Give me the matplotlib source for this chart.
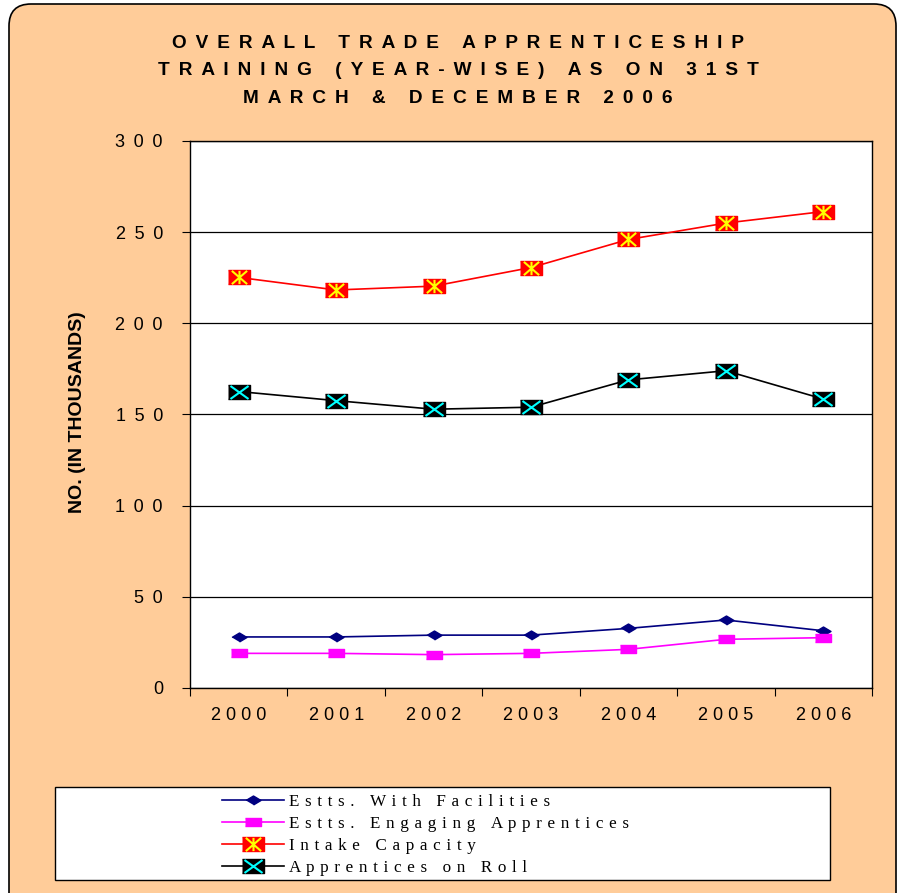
import matplotlib
matplotlib.use("Agg")
import matplotlib.pyplot as plt
from matplotlib.patches import FancyBboxPatch, Rectangle
from matplotlib.lines import Line2D
from matplotlib.path import Path

# %% data (in thousands)
years = ["2000", "2001", "2002", "2003", "2004", "2005", "2006"]
estts_facilities = [28.0, 28.0, 29.0, 29.0, 32.7, 37.3, 31.4]
estts_engaging = [19.0, 19.0, 18.3, 19.0, 21.2, 26.7, 27.6]
intake_capacity = [225.2, 218.3, 220.4, 230.6, 246.0, 255.0, 261.3]
apprentices_roll = [162.6, 157.6, 152.9, 154.0, 169.0, 174.0, 158.5]
yticks = [0, 50, 100, 150, 200, 250, 300]


def spaced(s, sep=" "):
    return sep.join(s)


# flattened excel style markers
diamond = [(0, -0.6), (1, 0), (0, 0.6), (-1, 0)]
flat_sq = [(-1, -0.56), (1, -0.56), (1, 0.56), (-1, 0.56)]
big_sq = [(-1, -0.65), (1, -0.65), (1, 0.65), (-1, 0.65)]
M, L = Path.MOVETO, Path.LINETO
star = Path([(-1, -0.87), (1, 0.87), (-1, 0.87), (1, -0.87), (0, -0.87), (0, 0.87)],
            [M, L, M, L, M, L])
cross = Path([(-1, -0.72), (1, 0.72), (-1, 0.72), (1, -0.72)], [M, L, M, L])

st_fac = dict(color="#000080", lw=1.2, marker=diamond, ms=10.8, mfc="#000080", mec="#000080")
st_eng = dict(color="#FF00FF", lw=1.2, marker=flat_sq, ms=11.5, mfc="#FF00FF", mec="#FF00FF")
st_int = dict(color="#FF0000", lw=1.2, marker=big_sq, ms=16.5, mfc="#FF0000", mec="#FF0000")
st_int2 = dict(ls="none", marker=star, ms=11, mew=1.5, mfc="#FFFF00", mec="#FFFF00")
st_app = dict(color="black", lw=1.2, marker=big_sq, ms=16.5, mfc="black", mec="black")
st_app2 = dict(ls="none", marker=cross, ms=13, mew=1.5, mfc="#00FFFF", mec="#00FFFF")

peach = "#FFCC99"
fig = plt.figure(figsize=(8.98, 8.93), dpi=100)

# rounded peach panel behind everything
panel = FancyBboxPatch((9, -40), 887, 889 + 40, boxstyle="round,pad=0,rounding_size=22",
                       transform=None, facecolor=peach, edgecolor="black", lw=1.2, zorder=-10)
fig.patches.append(panel)

ax = fig.add_axes([190 / 898, 1 - 688 / 893, 682 / 898, 547 / 893])
x = list(range(len(years)))

ax.plot(x, estts_facilities, zorder=3, **st_fac)
ax.plot(x, estts_engaging, zorder=3, **st_eng)
ax.plot(x, intake_capacity, zorder=3, **st_int)
ax.plot(x, intake_capacity, zorder=4, **st_int2)
ax.plot(x, apprentices_roll, zorder=3, **st_app)
ax.plot(x, apprentices_roll, zorder=4, **st_app2)

ax.set_xlim(-0.5, len(years) - 0.5)
ax.set_ylim(0, 300)
ax.set_yticks(yticks)
ax.set_yticklabels([spaced(str(v), " \u2009") for v in yticks], fontsize=13,
                   family="Liberation Sans")
ax.yaxis.grid(True, color="black", lw=0.9)
ax.set_axisbelow(True)

ax.set_xticks([i - 0.5 for i in range(len(years) + 1)])
ax.set_xticklabels([])
ax.set_xticks(x, minor=True)
ax.set_xticklabels([spaced(y) for y in years], minor=True, fontsize=13, family="Liberation Sans")
ax.tick_params(axis="x", which="minor", length=0, pad=14)
ax.tick_params(axis="x", which="major", length=6, direction="out")
ax.tick_params(axis="y", length=6, direction="out", pad=13.5)
for s in ax.spines.values():
    s.set_color("black")
    s.set_linewidth(1.0)

ax.set_ylabel("NO. (IN THOUSANDS)", fontsize=14, fontweight="bold",
              family="Liberation Sans")
ax.yaxis.set_label_coords(-0.152, 0.505)

title_lines = ["OVERALL TRADE APPRENTICESHIP",
               "TRAINING (YEAR-WISE) AS ON 31ST",
               "MARCH & DECEMBER 2006"]
title = "\n".join(spaced(t, " \u2009") for t in title_lines)
fig.text(458 / 898, 1 - 35 / 893, title, ha="center", va="top", fontsize=13.7,
         fontweight="bold", family="Liberation Sans", linespacing=1.8)

# legend box
fig.patches.append(Rectangle((55 / 898, 1 - 880 / 893), 775 / 898, 93 / 893,
                             transform=fig.transFigure, facecolor="white",
                             edgecolor="black", lw=1.0, zorder=1))
h1 = Line2D([], [], **st_fac)
h2 = Line2D([], [], **st_eng)
h3 = (Line2D([], [], **st_int), Line2D([], [], **st_int2))
h4 = (Line2D([], [], **st_app), Line2D([], [], **st_app2))
labels = ["Estts. With Facilities", "Estts. Engaging Apprentices",
          "Intake Capacity", "Apprentices on Roll"]
leg = fig.legend([h1, h2, h3, h4], [spaced(l, " \u200a") for l in labels],
                 loc="upper left", bbox_to_anchor=(222 / 898, 1 - 794 / 893),
                 frameon=False, prop={"family": "Liberation Serif", "size": 12.3},
                 handlelength=3.6, handletextpad=0.3, labelspacing=0.35,
                 borderpad=0, borderaxespad=0)
leg.set_zorder(5)

fig.savefig("out.png", dpi=100, facecolor="white")
